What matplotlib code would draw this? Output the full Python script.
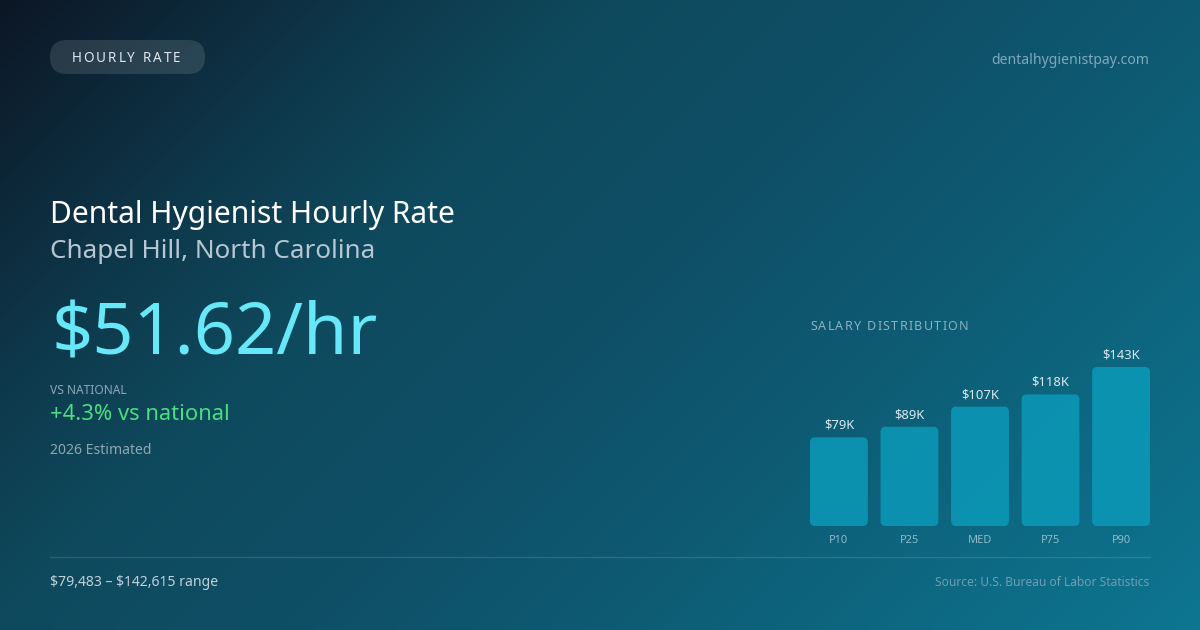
import numpy as np
import matplotlib
matplotlib.use("Agg")
import matplotlib.pyplot as plt
from matplotlib.patches import FancyBboxPatch
from matplotlib.colors import LinearSegmentedColormap

# ---- data ----
categories = ["P10", "P25", "MED", "P75", "P90"]
salaries_k = [79.483, 89, 107, 118, 142.615]
bar_labels = ["$79K", "$89K", "$107K", "$118K", "$143K"]

badge = "HOURLY RATE"
site = "dentalhygienistpay.com"
title = "Dental Hygienist Hourly Rate"
subtitle = "Chapel Hill, North Carolina"
rate = "$51.62/hr"
vs_label = "VS NATIONAL"
vs_value = "+4.3% vs national"
est = "2026 Estimated"
dist_title = "SALARY DISTRIBUTION"
range_text = "$79,483 \u2013 $142,615 range"
source = "Source: U.S. Bureau of Labor Statistics"

W, H = 1200, 630
plt.rcParams['font.family'] = ['Noto Sans', 'DejaVu Sans']
fig = plt.figure(figsize=(W / 100, H / 100), dpi=100)

# background gradient
bg = fig.add_axes([0, 0, 1, 1])
bg.set_axis_off()
yy, xx = np.mgrid[0:H, 0:W]
t = (xx + yy) / (W + H)
cmap = LinearSegmentedColormap.from_list(
    "bg", [(0.0, "#0c1725"), (0.22, "#0e3a4d"), (0.34, "#0e4a5e"),
           (0.5, "#0f4f66"), (0.66, "#0d5a72"), (1.0, "#0e7691")])
bg.imshow(t, cmap=cmap, extent=[0, W, H, 0], aspect='auto', vmin=0, vmax=1)
bg.set_xlim(0, W)
bg.set_ylim(H, 0)


def px(x, y):
    return x / W, 1 - y / H


def txt(x, y, s, size_px, color, ha='left', va='center', **kw):
    return fig.text(*px(x, y), s, fontsize=size_px * 0.72, color=color,
                    ha=ha, va=va, parse_math=False, **kw)


renderer = fig.canvas.get_renderer()


def spaced(x, y, s, size_px, color, track_px, ha='left'):
    def width(sub):
        if not sub:
            return 0.0
        tt = fig.text(0, 0, sub, fontsize=size_px * 0.72, parse_math=False)
        w = tt.get_window_extent(renderer).width
        tt.remove()
        return w
    total = width(s) + track_px * (len(s) - 1)
    x0 = x - total / 2 if ha == 'center' else x
    for i, ch in enumerate(s):
        if ch == ' ':
            continue
        off = width(s[:i]) + track_px * i
        txt(x0 + off, y, ch, size_px, color)


# badge pill
pill = FancyBboxPatch((50, 40), 155, 34, boxstyle="round,pad=0,rounding_size=17",
                      transform=bg.transData, facecolor="#ffffff", alpha=0.12,
                      edgecolor='none')
bg.add_patch(pill)
spaced(126, 58.5, badge, 13.5, "#dfe7ee", 2.0, ha='center')

txt(1149, 60, site, 14, "#7ea8bd", ha='right')

txt(50, 215, title, 30, "#ffffff")
txt(50, 252, subtitle, 26, "#b6c6d2")
txt(51, 336, rate, 72, "#67e8f9")
txt(50, 390, vs_label, 12, "#8ea6b6")
txt(50, 415, vs_value, 22, "#4ade80")
txt(50, 451, est, 14, "#8fa5b4")

spaced(810, 327, dist_title, 12.5, "#8db0c1", 1.3)

# separator
bg.plot([50, 1150], [556.5, 556.5], color="#ffffff", alpha=0.12, lw=1)

txt(50, 583, range_text, 14, "#c2cfd8")
txt(1149, 583, source, 12, "#6f9db2", ha='right')

# bar chart
left, right, top, bottom = 810, 1150, 367, 526
ax = fig.add_axes([left / W, 1 - bottom / H, (right - left) / W, (bottom - top) / H])
ax.set_axis_off()
ax.patch.set_alpha(0)
xs = np.arange(len(categories))
bw = 0.82
ax.set_xlim(-bw / 2, len(categories) - 1 + bw / 2)
ax.set_ylim(0, max(salaries_k))
bars = ax.bar(xs, salaries_k, width=bw, color="none")
px_per_x = (right - left) / (len(categories) - 1 + bw)
px_per_y = (bottom - top) / max(salaries_k)
r = 5 / px_per_x
for b in bars:
    fb = FancyBboxPatch((b.get_x(), 0), b.get_width(), b.get_height(),
                        boxstyle=f"round,pad=0,rounding_size={r}",
                        mutation_aspect=px_per_x / px_per_y,
                        facecolor="#0b97b5", alpha=0.9, edgecolor='none',
                        clip_on=False)
    ax.add_patch(fb)
    b.remove()
for xi, v, lab in zip(xs, salaries_k, bar_labels):
    ax.annotate(lab, (xi, v), xytext=(0, 4), textcoords='offset points',
                ha='center', va='bottom', fontsize=13 * 0.72, color="#d9e8ef",
                annotation_clip=False)
    ax.annotate(categories[xi], (xi, 0), xytext=(0, -10.5), textcoords='offset points',
                ha='center', va='center', fontsize=11 * 0.72, color="#8dbccb",
                annotation_clip=False)

fig.savefig("out.png", dpi=100)
